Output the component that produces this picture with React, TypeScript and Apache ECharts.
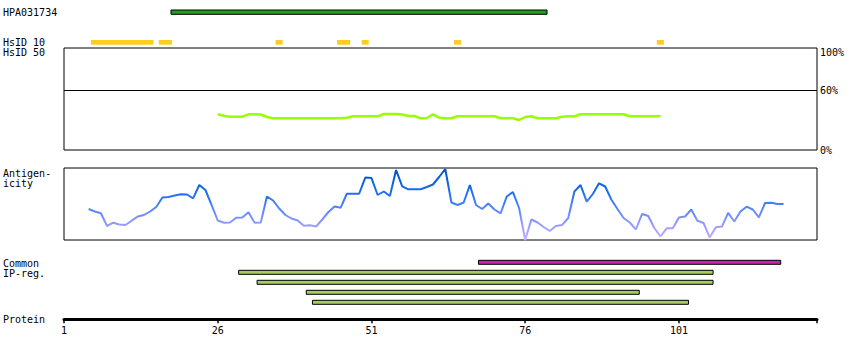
import React, { useEffect, useRef } from 'react';
import * as echarts from 'echarts';

// ---------- data ----------
const antigenName = 'HPA031734';
const antigenSpan = [19, 79];
const hsid10Spans = [[6, 15], [17, 18], [36, 36], [46, 47], [50, 50], [65, 65], [98, 98]];

const identityStart = 26;
const identityValues = [
  35.7, 34.3, 33.3, 33.3, 33.3, 35.7, 35.7, 35.5, 33, 31.7,
  31.7, 31.7, 31.7, 31.7, 31.7, 31.7, 31.7, 31.7, 31.7, 31.7,
  31.7, 32.2, 33.7, 33.7, 33.7, 33.7, 33.7, 36, 36, 36,
  35.5, 34, 34, 31.7, 32, 35.7, 32.3, 31.7, 31.7, 33.7,
  33.7, 33.7, 33.7, 33.7, 33.7, 33.7, 31.7, 31.7, 31.7, 30,
  33, 33.7, 31.7, 31.7, 31.7, 31.7, 33.3, 33.7, 33.7, 35.7,
  35.7, 35.7, 35.7, 35.7, 35.7, 35.7, 35.7, 33.7, 33.7, 33.7,
  33.7, 33.7, 33.7,
];
const identityTickLabels = [0, 60, 100];
const identityThreshold = 60;

const antigenicityStart = 5;
const antigenicityValues = [
  31, 28.5, 26.7, 14, 17.3, 15.5, 15, 19.3, 23.5, 25,
  28.5, 33, 42.5, 43, 44.5, 45.7, 45.5, 41.7, 55, 50,
  35, 19.5, 17.3, 17.5, 22.3, 22.5, 27.7, 17.3, 17.5, 43.5,
  39.5, 31.5, 25, 21.5, 19.5, 14.3, 14.7, 13.5, 20.5, 28,
  33.5, 32.3, 46.3, 46.3, 46.3, 62.5, 62, 45, 48.5, 44,
  70, 53.7, 50.7, 50.7, 50.8, 53, 55.5, 63, 71, 37.5,
  35, 37.5, 55, 35, 31, 36.5, 30.5, 26.7, 43.5, 48,
  32, 0, 20.5, 17.5, 13, 9, 14, 15, 22, 48.5,
  55, 38.3, 46, 56.7, 53.5, 40.5, 31, 22, 17.5, 10.5,
  26, 24, 12, 3.5, 11.7, 11.7, 22.5, 23.5, 30.5, 19.3,
  17, 2.5, 12.7, 13.5, 27.2, 18.5, 28.5, 33.3, 30.5, 22.7,
  37, 37.3, 36, 36,
];
const antigenicityMax = 72;

const commonRegions = [[69, 117]];
const ipRegions = [[30, 106], [33, 106], [41, 94], [42, 102]];

const proteinTickStep = 25;
const proteinEnd = 123.45; // residue coordinate of the axis end

const labelTexts = [antigenName, 'HsID 10', 'HsID 50', 'Antigen-', 'icity', 'Common', 'IP-reg.', 'Protein'];

// ---------- layout / style ----------
const FONT_FAMILY = '"DejaVu Sans Mono", monospace';
const FONT = `10px ${FONT_FAMILY}`;
const PAD_L = 0.6;
const PAD_R = 0.55;
const LEFT = 64;
const RIGHT = 33;
const labelY = [12, 42, 52.7, 173, 183.7, 263, 273, 319.7];

const toAxis = (res: number) => res - 1;
const AXIS_MAX = toAxis(proteinEnd);

function spanRenderer(fill: string, stroke: string | null) {
  return (params: any, api: any) => {
    const cs = params.coordSys;
    const x0 = api.coord([toAxis(api.value(0)) - PAD_L, 0])[0];
    const x1 = api.coord([toAxis(api.value(1)) + PAD_R, 0])[0];
    return {
      type: 'rect',
      shape: { x: x0, y: cs.y, width: x1 - x0, height: cs.height },
      style: stroke ? { fill, stroke, lineWidth: 1 } : { fill },
    };
  };
}

export default function App() {
  const ref = useRef<HTMLDivElement>(null);

  useEffect(() => {
    if (!ref.current) return;
    const chart = echarts.init(ref.current, undefined, { renderer: 'svg' });

    const grid = (top: number, height: number, box = false) => ({
      left: LEFT,
      right: RIGHT,
      top,
      height,
      show: box,
      borderColor: '#000',
      borderWidth: 1,
      backgroundColor: 'transparent',
    });

    const hiddenX = (gridIndex: number) => ({
      gridIndex,
      type: 'value',
      min: 0,
      max: AXIS_MAX,
      show: false,
    });
    const hiddenY = (gridIndex: number, max = 1) => ({
      gridIndex,
      type: 'value',
      min: 0,
      max,
      show: false,
    });

    const ipData = [
      ...commonRegions.map((r) => [r[0], r[1], 0, 0]),
      ...ipRegions.map((r, i) => [r[0], r[1], i + 1, 1]),
    ];

    const option: any = {
      animation: false,
      backgroundColor: '#fff',
      grid: [
        grid(10, 4.3),
        grid(40, 4.7),
        grid(48, 102, true),
        grid(168, 72, true),
        grid(257.3, 50),
        grid(309, 10.3),
      ],
      xAxis: [
        hiddenX(0),
        hiddenX(1),
        hiddenX(2),
        hiddenX(3),
        hiddenX(4),
        {
          gridIndex: 5,
          type: 'value',
          min: 0,
          max: AXIS_MAX,
          interval: proteinTickStep,
          position: 'bottom',
          axisLine: { show: true, lineStyle: { color: '#000', width: 3 } },
          axisTick: { show: true, length: 4, lineStyle: { color: '#000', width: 1.5 } },
          splitLine: { show: false },
          axisLabel: {
            margin: 6,
            fontSize: 10,
            fontFamily: FONT_FAMILY,
            color: '#000',
            formatter: (v: number) => (v % proteinTickStep === 0 ? String(v + 1) : ''),
          },
        },
      ],
      yAxis: [
        hiddenY(0),
        hiddenY(1),
        {
          gridIndex: 2,
          type: 'value',
          min: 0,
          max: 102,
          interval: 20,
          position: 'right',
          axisLine: { show: false },
          axisTick: { show: false },
          splitLine: { show: false },
          axisLabel: {
            margin: 3,
            fontSize: 10,
            fontFamily: FONT_FAMILY,
            color: '#000',
            formatter: (v: number) =>
              identityTickLabels.includes(v) ? (v === 100 ? `{top|${v}%}` : `${v}%`) : '',
            rich: { top: { fontSize: 10, fontFamily: FONT_FAMILY, color: '#000', padding: [5, 0, 0, 0] } },
          },
        },
        hiddenY(3, antigenicityMax),
        {
          gridIndex: 4,
          type: 'category',
          data: ['0', '1', '2', '3', '4'],
          inverse: true,
          show: false,
        },
        hiddenY(5),
      ],
      visualMap: {
        type: 'continuous',
        show: false,
        seriesIndex: 3,
        dimension: 1,
        min: 0,
        max: antigenicityMax,
        inRange: { color: ['#c4b0ff', '#9a9cff', '#6088ff', '#2a74f2', '#0a62e0', '#0050c4'] },
      },
      series: [
        {
          type: 'custom',
          xAxisIndex: 0,
          yAxisIndex: 0,
          renderItem: spanRenderer('#1f9f1f', '#000'),
          data: [antigenSpan],
        },
        {
          type: 'custom',
          xAxisIndex: 1,
          yAxisIndex: 1,
          renderItem: spanRenderer('#ffcc22', null),
          data: hsid10Spans,
        },
        {
          type: 'line',
          xAxisIndex: 2,
          yAxisIndex: 2,
          symbol: 'none',
          showSymbol: false,
          lineStyle: { color: '#99ff00', width: 2.5 },
          data: identityValues.map((v, i) => [toAxis(identityStart + i), v]),
          markLine: {
            silent: true,
            symbol: ['none', 'none'],
            label: { show: false },
            lineStyle: { color: '#000', width: 1, type: 'solid' },
            data: [{ yAxis: identityThreshold }],
          },
        },
        {
          type: 'line',
          xAxisIndex: 3,
          yAxisIndex: 3,
          symbol: 'none',
          showSymbol: false,
          lineStyle: { width: 2 },
          data: antigenicityValues.map((v, i) => [toAxis(antigenicityStart + i), v]),
        },
        {
          type: 'custom',
          xAxisIndex: 4,
          yAxisIndex: 4,
          renderItem: (params: any, api: any) => {
            const row = api.value(2);
            const kind = api.value(3);
            const a = api.coord([toAxis(api.value(0)) - PAD_L, row]);
            const b = api.coord([toAxis(api.value(1)) + PAD_R, row]);
            return {
              type: 'rect',
              shape: { x: a[0], y: a[1] - 2, width: b[0] - a[0], height: 4 },
              style: { fill: kind === 0 ? '#cc22aa' : '#a6cc5c', stroke: '#000', lineWidth: 1 },
            };
          },
          data: ipData,
        },
      ],
      graphic: labelTexts.map((t, i) => ({
        type: 'text',
        x: 3,
        y: labelY[i],
        style: { text: t, font: FONT, fill: '#000', verticalAlign: 'middle' },
      })),
    };

    chart.setOption(option);
    return () => chart.dispose();
  }, []);

  return (
    <div
      ref={ref}
      style={{ position: 'fixed', left: 0, top: 0, width: 850, height: 360, background: '#fff' }}
    />
  );
}
